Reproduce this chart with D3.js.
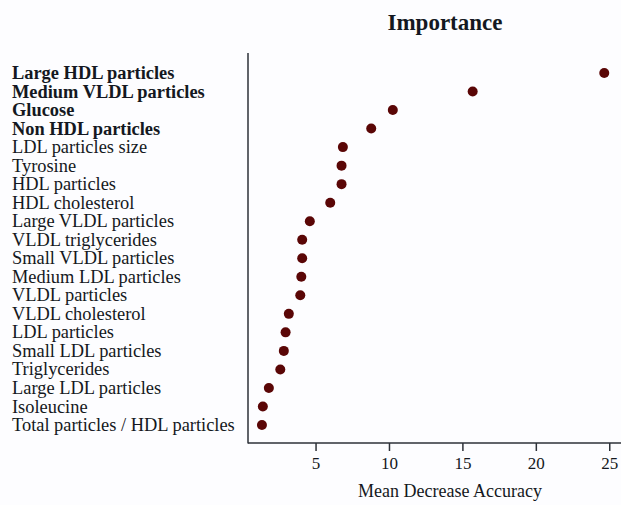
<!DOCTYPE html>
<html><head><meta charset="utf-8">
<script src="https://cdn.jsdelivr.net/npm/d3@7"></script>
<style>
html,body{margin:0;padding:0;background:#fdfdff;}
svg{display:block;}
text{font-family:"Liberation Serif","Times New Roman",serif;fill:#141821;}
</style></head>
<body><svg id="c" width="621" height="505"></svg>
<script>
const categories = ["Large HDL particles","Medium VLDL particles","Glucose","Non HDL particles","LDL particles size","Tyrosine","HDL particles","HDL cholesterol","Large VLDL particles","VLDL triglycerides","Small VLDL particles","Medium LDL particles","VLDL particles","VLDL cholesterol","LDL particles","Small LDL particles","Triglycerides","Large LDL particles","Isoleucine","Total particles / HDL particles"];
const values = [24.66,15.7,10.26,8.79,6.86,6.77,6.77,6.0,4.61,4.09,4.09,4.03,3.96,3.18,2.96,2.84,2.6,1.82,1.41,1.35];
const boldCategories = ["Large HDL particles","Medium VLDL particles","Glucose","Non HDL particles"];
const xTicks = [5,10,15,20,25];

const svg = d3.select("#c");
const x = d3.scaleLinear().domain([0.4,25.8]).range([248,621]);
const y = d3.scalePoint().domain(categories).range([73,425]);

const axisColor = "#2d3138";
svg.append("line").attr("x1",248).attr("x2",248).attr("y1",53).attr("y2",443.5).attr("stroke",axisColor).attr("stroke-width",1.5);
const xa = d3.axisBottom(x).tickValues(xTicks).tickSize(8).tickPadding(6).tickFormat(d3.format("d"));
const g = svg.append("g").attr("transform","translate(0,443)").call(xa);
g.select(".domain").attr("d","M248,0H621").attr("stroke",axisColor).attr("stroke-width",1.5);
g.selectAll(".tick line").attr("stroke",axisColor).attr("stroke-width",1.5);
g.selectAll(".tick text").attr("font-size",17).attr("font-family","Liberation Serif").attr("fill","#141821");

svg.append("g").selectAll("text").data(categories).join("text")
  .attr("x",12).attr("y",d=>y(d)).attr("dy","0.33em")
  .attr("font-size",18.4)
  .attr("font-weight",d=>boldCategories.includes(d)?"bold":"normal")
  .text(d=>d);

svg.append("g").selectAll("circle").data(categories).join("circle")
  .attr("cx",(d,i)=>x(values[i])).attr("cy",d=>y(d)).attr("r",5)
  .attr("fill","#5a0606");

svg.append("text").attr("x",445).attr("y",30).attr("text-anchor","middle")
  .attr("font-size",23).attr("font-weight","bold").text("Importance");
svg.append("text").attr("x",450).attr("y",497).attr("text-anchor","middle")
  .attr("font-size",18).text("Mean Decrease Accuracy");
</script></body></html>
